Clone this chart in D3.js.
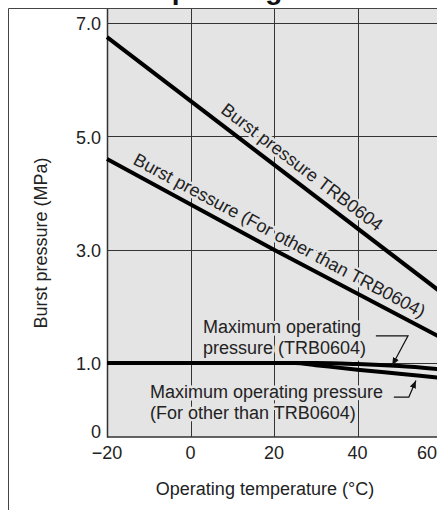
<!DOCTYPE html>
<html>
<head>
<meta charset="utf-8">
<script src="https://cdn.jsdelivr.net/npm/d3@7"></script>
<style>
  html, body { margin: 0; padding: 0; background: #fff; overflow: hidden; }
  svg { display: block; font-family: "Liberation Sans", Arial, sans-serif; }
</style>
</head>
<body>
<svg id="viz"></svg>
<script>
/* Data */

const xTicks = [-20, 0, 20, 40, 60];
const yTicks = [0, 1, 3, 5, 7];
const yTickLabels = ["0", "1.0", "3.0", "5.0", "7.0"];
const yGrid = [1, 3, 5, 7];

const burstTRBTemp = [-20, 60];
const burstTRB = [6.75, 2.25];

const burstOtherTemp = [-20, 20, 60];
const burstOther = [4.6, 3.0, 1.45];

const maxTemp = [-20, 0, 20, 25, 30, 40, 50, 60];
const maxTRB = [1.0, 1.0, 1.0, 1.0, 1.0, 0.985, 0.958, 0.915];
const maxOther = [1.0, 1.0, 1.0, 1.0, 0.97, 0.91, 0.855, 0.8];

/* Environment */

const width = 437;
const height = 510;

const svg = d3.select('#viz')
    .attr('width', width)
    .attr('height', height);

/* Scales (y axis is stretched between 0 and 1) */

const x = d3.scaleLinear().domain([-20, 60]).range([107, 441]);
const y = d3.scaleLinear().domain([0, 1, 7]).range([437, 363, 23]);

const plotTop = 9;
const ink = "#222";
const bg = "#e4e4e4";

/* Frame */

svg.append("line")
    .attr("x1", 8.5).attr("x2", width)
    .attr("y1", 8.5).attr("y2", 8.5)
    .attr("stroke", "#444");
svg.append("line")
    .attr("x1", 8.5).attr("x2", 8.5)
    .attr("y1", 8.5).attr("y2", height)
    .attr("stroke", "#444");

/* Cut off title */

svg.append("text")
    .attr("x", 150).attr("y", -1)
    .attr("font-size", 28)
    .attr("font-weight", "bold")
    .attr("fill", "#111")
    .text("Operating");

/* Plot area */

svg.append("rect")
    .attr("x", x(-20)).attr("y", plotTop)
    .attr("width", width - x(-20)).attr("height", y(0) - plotTop)
    .attr("fill", bg);

/* Grid */

const gGrid = svg.append("g").attr("stroke", "#333").attr("stroke-width", 1);

gGrid.selectAll("line.v")
    .data(xTicks.slice(1))
    .enter().append("line")
    .attr("class", "v")
    .attr("x1", d => Math.round(x(d)) + 0.5).attr("x2", d => Math.round(x(d)) + 0.5)
    .attr("y1", plotTop).attr("y2", y(0));

gGrid.selectAll("line.h")
    .data(yGrid)
    .enter().append("line")
    .attr("class", "h")
    .attr("x1", x(-20)).attr("x2", width)
    .attr("y1", d => Math.round(y(d)) + 0.5).attr("y2", d => Math.round(y(d)) + 0.5);

/* Axes */

svg.append("line")
    .attr("x1", x(-20) + 0.5).attr("x2", x(-20) + 0.5)
    .attr("y1", plotTop).attr("y2", y(0) + 0.5)
    .attr("stroke", "#333").attr("stroke-width", 1.5);
svg.append("line")
    .attr("x1", x(-20)).attr("x2", width)
    .attr("y1", y(0)).attr("y2", y(0))
    .attr("stroke", "#333").attr("stroke-width", 1.5);

// the "0" label sits a little above the axis line
svg.append("g")
    .selectAll("text")
    .data(yTicks)
    .enter().append("text")
    .attr("x", 101)
    .attr("y", d => d === 0 ? y(d) - 5 : y(d) + 1)
    .attr("dy", "0.35em")
    .attr("text-anchor", "end")
    .attr("font-size", 18)
    .attr("fill", ink)
    .text((d, i) => yTickLabels[i]);

// the last label is pulled inside the cut edge
svg.append("g")
    .selectAll("text")
    .data(xTicks)
    .enter().append("text")
    .attr("x", d => d === 60 ? width : x(d))
    .attr("y", 459)
    .attr("text-anchor", d => d === 60 ? "end" : "middle")
    .attr("font-size", 18)
    .attr("fill", ink)
    .text(d => d < 0 ? "\u2212" + Math.abs(d) : d);

svg.append("text")
    .attr("transform", "translate(47,243) rotate(-90)")
    .attr("text-anchor", "middle")
    .attr("font-size", 18)
    .attr("fill", ink)
    .text("Burst pressure (MPa)");

svg.append("text")
    .attr("x", 265).attr("y", 495)
    .attr("text-anchor", "middle")
    .attr("font-size", 18)
    .attr("fill", ink)
    .text("Operating temperature (\u00b0C)");

/* Labels along the burst lines (with halo that breaks the grid) */

function slopeLabel(temps, vals, t0, dy, label) {
  const at = d3.scaleLinear().domain(temps).range(vals);
  const p0 = [x(temps[0]), y(vals[0])];
  const p1 = [x(temps[temps.length - 1]), y(vals[vals.length - 1])];
  const ang = Math.atan2(p1[1] - p0[1], p1[0] - p0[0]) * 180 / Math.PI;
  svg.append("text")
      .attr("transform", `translate(${x(t0)},${y(at(t0))}) rotate(${ang})`)
      .attr("dy", dy)
      .attr("font-size", 18)
      .attr("fill", ink)
      .attr("stroke", bg)
      .attr("stroke-width", 5)
      .attr("paint-order", "stroke")
      .text(label);
}

slopeLabel(burstTRBTemp, burstTRB, 5.7, -9, "Burst pressure TRB0604");
slopeLabel(burstOtherTemp, burstOther, -14.9, -8, "Burst pressure (For other than TRB0604)");

/* Annotations for the maximum operating pressure */

function noteLines(tx, ty, lines) {
  svg.append("text")
      .attr("x", x(tx)).attr("y", y(ty))
      .attr("font-size", 18)
      .attr("fill", ink)
      .attr("stroke", bg)
      .attr("stroke-width", 5)
      .attr("paint-order", "stroke")
      .selectAll("tspan")
      .data(lines)
      .enter().append("tspan")
      .attr("x", x(tx))
      .attr("dy", (d, i) => i ? 21.5 : 0)
      .text(d => d);
}

noteLines(3.0, 1.53, ["Maximum operating", "pressure (TRB0604)"]);
noteLines(-9.7, 0.53, ["Maximum operating pressure", "(For other than TRB0604)"]);

/* Data lines */

const line = d3.line().x(d => x(d[0])).y(d => y(d[1])).curve(d3.curveMonotoneX);

const series = [
  d3.zip(burstTRBTemp, burstTRB),
  d3.zip(burstOtherTemp, burstOther),
  d3.zip(maxTemp, maxOther),
  d3.zip(maxTemp, maxTRB)
];

svg.append("g")
    .selectAll("path")
    .data(series)
    .enter().append("path")
    .attr("d", line)
    .attr("fill", "none")
    .attr("stroke", "#000")
    .attr("stroke-width", 4)
    .attr("stroke-linejoin", "round");

/* Leader arrows */

svg.append("defs").append("marker")
    .attr("id", "head")
    .attr("viewBox", "0 0 10 10")
    .attr("refX", 10).attr("refY", 5)
    .attr("markerWidth", 8).attr("markerHeight", 8)
    .attr("markerUnits", "userSpaceOnUse")
    .attr("orient", "auto")
    .append("path")
    .attr("d", "M0,1 L10,5 L0,9 Z")
    .attr("fill", "#111");

const leaders = [
  [[44.4, 1.48], [52.1, 1.48], [48.3, 0.965]],
  [[48.7, 0.54], [52.3, 0.54], [54.0, 0.765]]
];

svg.append("g")
    .selectAll("path")
    .data(leaders)
    .enter().append("path")
    .attr("d", d3.line().x(d => x(d[0])).y(d => y(d[1])))
    .attr("fill", "none")
    .attr("stroke", "#111")
    .attr("stroke-width", 1.2)
    .attr("marker-end", "url(#head)");
</script>
</body>
</html>
